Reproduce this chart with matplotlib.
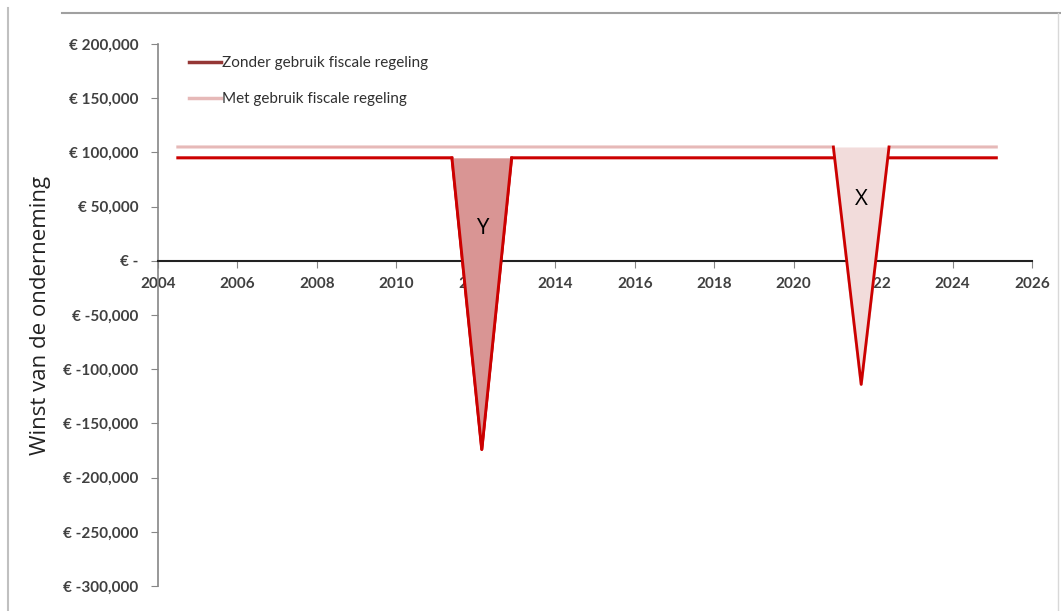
import matplotlib
matplotlib.use("Agg")
import matplotlib.pyplot as plt
from matplotlib.lines import Line2D
from matplotlib.ticker import FuncFormatter

# data
zonder_x = [2004.5, 2011.4, 2012.15, 2012.9, 2025.1]
zonder_y = [95000, 95000, -174000, 95000, 95000]
met_x = [2004.5, 2021.0, 2021.7, 2022.4, 2025.1]
met_y = [105000, 105000, -114000, 105000, 105000]
year_ticks = list(range(2004, 2027, 2))
value_ticks = list(range(-300000, 200001, 50000))
labels = ["Zonder gebruik fiscale regeling", "Met gebruik fiscale regeling"]
ylabel = "Winst van de onderneming"

red = "#CC0000"
pink = "#E6B9B8"
dark = "#953735"
fill_y = "#D99594"
fill_x = "#F2DCDB"
grey_txt = "#404040"

fig = plt.figure(figsize=(10.61, 6.11), dpi=100)
ax = fig.add_axes([0.1489, 0.0409, 0.8238, 0.8871])

# horizontal lines
ax.plot(met_x, met_y, color=pink, lw=2.2, zorder=2)
ax.plot(zonder_x, zonder_y, color=red, lw=2.2, zorder=2)

# Y dip (zonder regeling)
ax.fill_between(zonder_x[1:4], zonder_y[1:4], zonder_y[1], color=fill_y, zorder=3, lw=0)
ax.plot(zonder_x[1:4], zonder_y[1:4], color=red, lw=2.0, zorder=4)

# X dip (met regeling)
ax.fill_between(met_x[1:4], met_y[1:4], met_y[1], color=fill_x, zorder=3, lw=0)
ax.plot(met_x[1:4], met_y[1:4], color=red, lw=2.0, zorder=4)

ax.text(2012.15, 30000, "Y", fontsize=16, family="Open Sans", ha="center", va="center", zorder=5)
ax.text(2021.7, 57000, "X", fontsize=16, family="Open Sans", ha="center", va="center", zorder=5)

ax.set_xlim(2004, 2026)
ax.set_ylim(-300000, 200000)
ax.set_xticks(year_ticks)
ax.set_yticks(value_ticks)


def euro(v, pos):
    if v == 0:
        return "€ -"
    return "€ {:,.0f}".format(v)


ax.yaxis.set_major_formatter(FuncFormatter(euro))

for s in ["top", "right"]:
    ax.spines[s].set_visible(False)
ax.spines["left"].set_color("#868686")
ax.spines["left"].set_linewidth(1.2)
ax.spines["bottom"].set_position(("data", 0))
ax.spines["bottom"].set_color("#222222")
ax.spines["bottom"].set_linewidth(1.5)
ax.tick_params(axis="y", length=5, color="#868686", labelsize=11, labelcolor=grey_txt, pad=9)
ax.tick_params(axis="x", length=5, color="#868686", labelsize=11, labelcolor=grey_txt, pad=7)
for t in ax.get_xticklabels() + ax.get_yticklabels():
    t.set_family("Lato")
    t.set_fontweight("bold")

ax.set_ylabel(ylabel, fontsize=16, family="Open Sans", color="#222222", labelpad=9)

handles = [Line2D([0], [0], color=dark, lw=2.5), Line2D([0], [0], color=pink, lw=2.5)]
leg = ax.legend(handles, labels, loc="upper left", bbox_to_anchor=(0.02, 1.003), frameon=False,
                handlelength=2.1, handletextpad=0.05, labelspacing=1.45,
                prop={"family": "Lato", "size": 11})
for t in leg.get_texts():
    t.set_color("#303030")

# grey frame edges of the original screenshot
fig.add_artist(Line2D([0.058, 1.0], [0.979, 0.979], color="#A0A0A0", lw=1.5, transform=fig.transFigure))
fig.add_artist(Line2D([0.008, 0.008], [0.0, 0.987], color="#C0C0C0", lw=1.5, transform=fig.transFigure))
fig.add_artist(Line2D([0.997, 0.997], [0.0, 0.979], color="#D8D8D8", lw=1.0, transform=fig.transFigure))

fig.savefig("out.png", dpi=100)
